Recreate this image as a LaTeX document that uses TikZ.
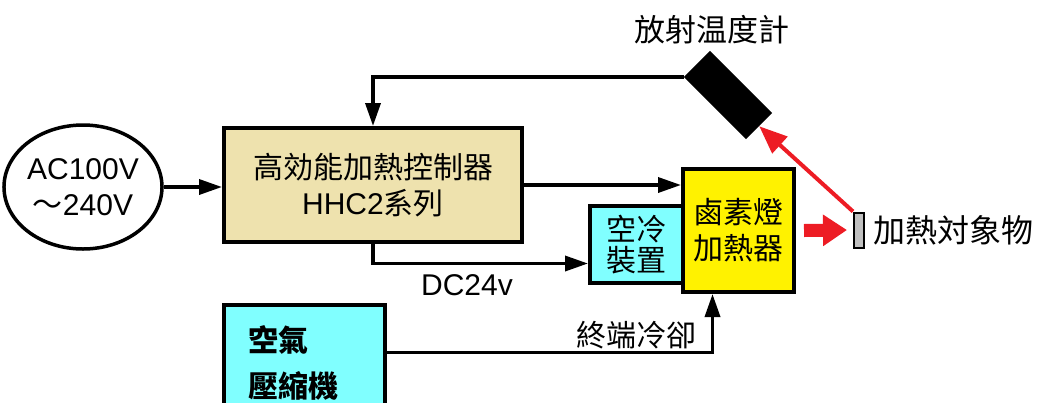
\documentclass[tikz,border=0pt]{standalone}
\usepackage{fontspec}
\setmainfont{Liberation Sans}
\newfontfamily\cjk{Noto Sans CJK TC}
\usetikzlibrary{arrows.meta,shapes.geometric}
\definecolor{ctrltan}{HTML}{EEE2AE}
\definecolor{coolcyan}{HTML}{80FFFF}
\definecolor{lampyellow}{HTML}{FFF200}
\definecolor{heatred}{HTML}{ED1C24}
\definecolor{targetgray}{HTML}{C0C0C0}

\begin{document}
\begin{tikzpicture}[
  x=1pt, y=-1pt,
  font=\fontsize{30}{36}\selectfont,
  box/.style={draw=black, line width=4pt, align=center, inner sep=0pt},
  ctrlbox/.style={box, fill=ctrltan, minimum width=298pt, minimum height=114pt},
  coolbox/.style={box, fill=coolcyan},
  lampbox/.style={box, fill=lampyellow, minimum width=111pt, minimum height=123pt},
  arrow/.style={-{Triangle[length=23pt,width=15pt]}, line width=3.5pt},
  ray/.style={-{Triangle[length=28pt,width=22pt]}, line width=4pt, draw=heatred},
  heat/.style={-{Triangle[length=24pt,width=30pt]}, line width=13pt, draw=heatred},
  lbl/.style={inner sep=0pt}
]
\useasboundingbox (0,0) rectangle (1043,402);

\node[ellipse, draw, line width=3.5pt, minimum width=155pt, minimum height=124pt,
  inner sep=0pt, align=center] (power) at (83,187) {AC100V\\{\cjk ～}240V};
\node[ctrlbox] (ctrl) at (373,185) {{\cjk 高効能加熱控制器}\\HHC2{\cjk 系列}};

\node[coolbox, minimum width=93pt, minimum height=77pt,
  font=\fontsize{30}{31}\selectfont\cjk] (cool) at (636.5,244.5) {空冷\\裝置};
\node[lampbox, font=\fontsize{30}{36}\selectfont\cjk] (lamp) at (738.5,230.5)
  {鹵素燈\\加熱器};

\node[coolbox, minimum width=161pt, minimum height=115pt, align=left,
  text width=113pt, font=\fontsize{30}{46}\selectfont\cjk\bfseries]
  (comp) at (304.5,362.5) {空氣\\壓縮機};

\node[fill=black, minimum width=88pt, minimum height=37pt, rotate=-45]
  (thermo) at (728,95) {};
\node[lbl, font=\fontsize{31}{36}\selectfont\cjk] (thermolabel) at (712,30)
  {放射温度計};

\node[draw, line width=2pt, fill=targetgray, minimum width=10pt,
  minimum height=35pt, inner sep=0pt] (target) at (859,230) {};
\node[lbl, anchor=west, font=\fontsize{32}{36}\selectfont\cjk] (targetlabel)
  at (873,230) {加熱対象物};

\node[lbl] (dclabel) at (467,285) {DC24v};
\node[lbl, font=\fontsize{30}{36}\selectfont\cjk] (endcool) at (636,335)
  {終端冷卻};

\draw[arrow] (power.east) -- (ctrl.west |- power.east);
\draw[arrow] (thermo.south west) -| (ctrl.north);
\draw[arrow] (ctrl.east) -- (ctrl.east -| lamp.west);
\draw[arrow] (ctrl.south) |- ([yshift=-19pt]cool.west);
\draw[arrow] ([yshift=10pt]comp.east) -| ([xshift=-26pt]lamp.south);
\draw[ray] (target.north west) -- (thermo.east);
\draw[heat] ([xshift=8pt]lamp.east) -- ([xshift=-6pt]target.west);

\end{tikzpicture}
\end{document}
